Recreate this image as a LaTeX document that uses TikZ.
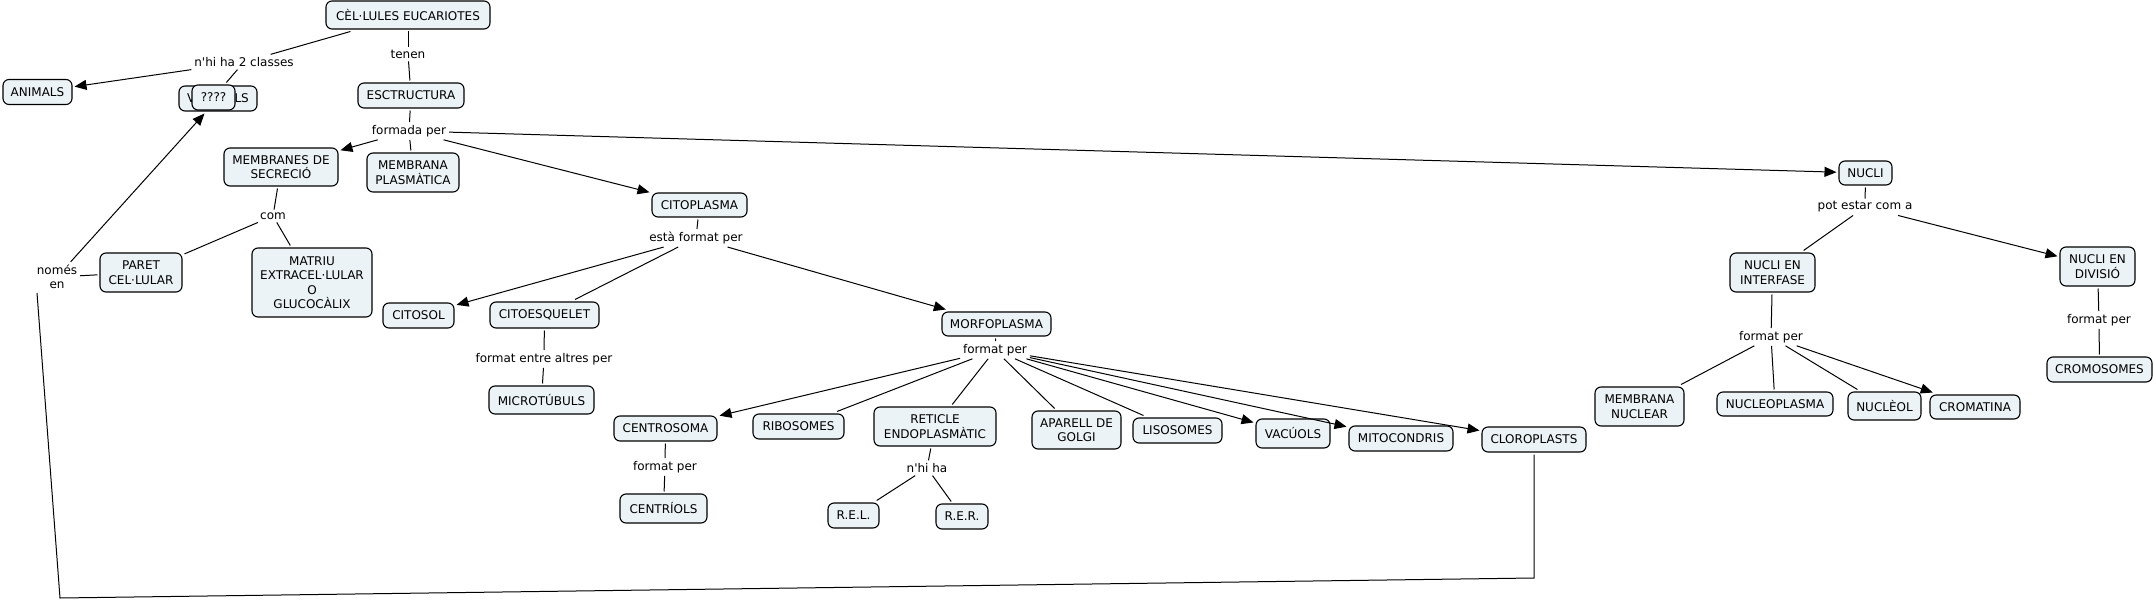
\documentclass[tikz,border=0pt]{standalone}
\usepackage{fontspec}
\setmainfont{DejaVu Sans}
\usetikzlibrary{arrows.meta}
\definecolor{boxfill}{RGB}{236,243,246}
\newcommand\cmbox[5]{\node[cbox,minimum width=#4pt,minimum height=#5pt] (#1) at (#2) {#3};}
\newcommand\cmlbl[3]{\node[lbl] (#1) at (#2) {#3};}
\begin{document}
\begin{tikzpicture}[x=1pt,y=-1pt,
  every node/.style={font=\fontsize{12}{14.5}\selectfont, align=center, text=black},
  cbox/.style={draw=black, line width=1.1pt, rounded corners=6pt, fill=boxfill, inner sep=0pt, outer sep=2.5pt},
  lbl/.style={inner sep=3pt, outer sep=0pt},
  conn/.style={line width=1pt, draw=black},
  arr/.style={conn, -{Triangle[length=12pt,width=10pt]}}
]
\useasboundingbox[fill=white] (0,0) rectangle (2154,601);

% concepts
\cmbox{cel}{408,15}{CÈL·LULES EUCARIOTES}{164}{28}
\cmbox{animals}{37.5,92}{ANIMALS}{69}{25}
\cmbox{veg}{218,98.5}{VEGETALS}{78}{25}
\cmbox{q}{213.5,97.5}{????}{43}{25}
\cmbox{estr}{411,95.5}{ESCTRUCTURA}{106}{25}
\cmbox{memsec}{281,167}{MEMBRANES DE\\SECRECIÓ}{114}{38}
\cmbox{memplas}{413,172.5}{MEMBRANA\\PLASMÀTICA}{92}{39}
\cmbox{nucli}{1865.5,173}{NUCLI}{53}{24}
\cmbox{citop}{699.5,205}{CITOPLASMA}{95}{24}
\cmbox{paret}{141,272.5}{PARET\\CEL·LULAR}{82}{39}
\cmbox{matriu}{312,282.5}{MATRIU\\EXTRACEL·LULAR\\O\\GLUCOCÀLIX}{120}{69}
\cmbox{citosol}{418.5,315.5}{CITOSOL}{71}{25}
\cmbox{citoesq}{544.5,315}{CITOESQUELET}{109}{26}
\cmbox{morfo}{996.5,324}{MORFOPLASMA}{109}{24}
\cmbox{micro}{541.5,400}{MICROTÚBULS}{105}{28}
\cmbox{centrosoma}{665.5,428.5}{CENTROSOMA}{103}{25}
\cmbox{ribo}{798.5,426.5}{RIBOSOMES}{91}{25}
\cmbox{reticle}{935,426.5}{RETICLE\\ENDOPLASMÀTIC}{122}{39}
\cmbox{aparell}{1076.5,430}{APARELL DE\\GOLGI}{89}{38}
\cmbox{liso}{1177.5,430.5}{LISOSOMES}{89}{25}
\cmbox{vacuols}{1293,433.5}{VACÚOLS}{74}{29}
\cmbox{mito}{1401,438.5}{MITOCONDRIS}{104}{25}
\cmbox{cloro}{1534,439.5}{CLOROPLASTS}{104}{25}
\cmbox{centriols}{663.5,508.5}{CENTRÍOLS}{87}{29}
\cmbox{rel}{853.5,515.5}{R.E.L.}{51}{25}
\cmbox{rer}{962,516.5}{R.E.R.}{52}{25}
\cmbox{interfase}{1772.5,272.5}{NUCLI EN\\INTERFASE}{85}{39}
\cmbox{divisio}{2097.5,266.5}{NUCLI EN\\DIVISIÓ}{75}{39}
\cmbox{cromosomes}{2099.5,369.5}{CROMOSOMES}{105}{25}
\cmbox{memnuc}{1639.5,406.5}{MEMBRANA\\NUCLEAR}{89}{39}
\cmbox{nucleoplasma}{1775,404}{NUCLEOPLASMA}{116}{24}
\cmbox{nucleol}{1884.5,406}{NUCLÈOL}{73}{28}
\cmbox{cromatina}{1975,407}{CROMATINA}{90}{24}

% linking phrases
\cmlbl{l1}{244,62}{n\textquotesingle hi ha 2 classes}
\cmlbl{l2}{408,54}{tenen}
\cmlbl{l3}{409,131}{formada per}
\cmlbl{l4}{273,216}{com}
\cmlbl{l5}{57,277}{només\\en}
\cmlbl{l6}{696,238}{està format per}
\cmlbl{l7}{544,359}{format entre altres per}
\cmlbl{l8}{995,350}{format per}
\cmlbl{l9}{665,467}{format per}
\cmlbl{l10}{927,468}{n\textquotesingle hi ha}
\cmlbl{l11}{1865,207}{pot estar com a}
\cmlbl{l12}{1771,337}{format per}
\cmlbl{l13}{2099,320}{format per}

% connectors
\draw[conn] (cel) -- (l1);
\draw[arr] (l1) -- (animals);
\draw[conn] (l1) -- (q);
\draw[conn] (cel) -- (l2);
\draw[conn] (l2) -- (estr);
\draw[conn] (estr) -- (l3);
\draw[arr] (l3) -- (memsec);
\draw[conn] (l3) -- (memplas);
\draw[arr] (l3) -- (citop);
\draw[arr] (l3) -- (nucli);
\draw[conn] (memsec) -- (l4);
\draw[conn] (l4) -- (paret);
\draw[conn] (l4) -- (matriu);
\draw[conn] (l5) -- (paret);
\draw[arr] (l5) -- (veg);
\coordinate (b1) at (1534,578);
\coordinate (b2) at (60,598);
\coordinate (b3) at (37,293);
\draw[conn] (cloro.south) -- (b1) -- (b2) -- (b3);
\draw[conn] (citop) -- (l6);
\draw[arr] (l6) -- (citosol);
\draw[conn] (l6) -- (citoesq);
\draw[arr] (l6) -- (morfo);
\draw[conn] (citoesq) -- (l7);
\draw[conn] (l7) -- (micro);
\draw[conn] (morfo) -- (l8);
\draw[arr] (l8) -- (centrosoma);
\draw[conn] (l8) -- (ribo);
\draw[conn] (l8) -- (reticle);
\draw[conn] (l8) -- (aparell);
\draw[conn] (l8) -- (liso);
\draw[arr] (l8) -- (vacuols);
\draw[arr] (l8) -- (mito);
\draw[arr] (l8) -- (cloro);
\draw[conn] (centrosoma) -- (l9);
\draw[conn] (l9) -- (centriols);
\draw[conn] (reticle) -- (l10);
\draw[conn] (l10) -- (rel);
\draw[conn] (l10) -- (rer);
\draw[conn] (nucli) -- (l11);
\draw[conn] (l11) -- (interfase);
\draw[arr] (l11) -- (divisio);
\draw[conn] (interfase) -- (l12);
\draw[conn] (l12) -- (memnuc);
\draw[conn] (l12) -- (nucleoplasma);
\draw[conn] (l12) -- (nucleol);
\draw[arr] (l12) -- (cromatina);
\draw[conn] (divisio) -- (l13);
\draw[conn] (l13) -- (cromosomes);
\end{tikzpicture}
\end{document}
